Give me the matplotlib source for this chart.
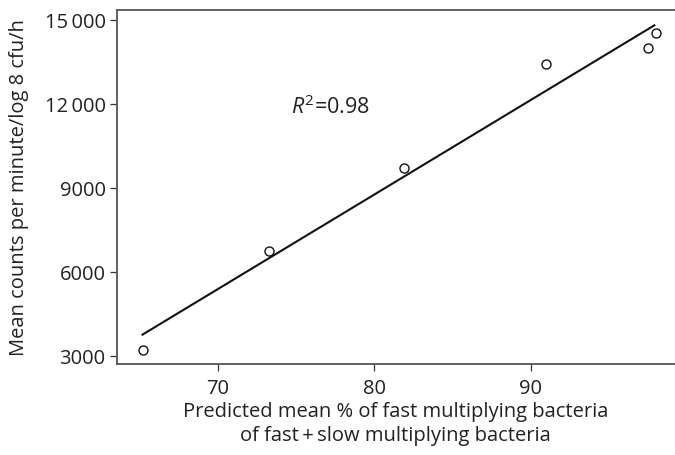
import numpy as np
import matplotlib
matplotlib.use("Agg")
import matplotlib.pyplot as plt

plt.rcParams["font.family"] = ["Open Sans", "DejaVu Sans"]
plt.rcParams["mathtext.fontset"] = "custom"
plt.rcParams["mathtext.rm"] = "Open Sans"
plt.rcParams["mathtext.it"] = "Open Sans:italic"

# values
pct_fast = [65.2, 73.3, 81.9, 91.0, 97.5, 98.0]
mean_cpm = [3220, 6750, 9690, 13420, 14000, 14525]
x_ticks = [70, 80, 90]
y_ticks = [3000, 6000, 9000, 12000, 15000]
y_tick_labels = ["3000", "6000", "9000", "12\u2009000", "15\u2009000"]

# least squares line through the points
slope, icpt = np.polyfit(pct_fast, mean_cpm, 1)
fit_x = np.array([min(pct_fast), 97.9])
fit_y = slope * fit_x + icpt

fig = plt.figure(figsize=(6.75, 4.56), dpi=100, facecolor="white")
ax = fig.add_axes([0.1729, 0.1989, 0.8271, 0.7776])

ax.plot(fit_x, fit_y, color="#111111", lw=1.5, zorder=2)
ax.plot(pct_fast, mean_cpm, ls="none", marker="o", ms=6.5,
        mfc="white", mec="#111111", mew=1.0, zorder=3)

ax.set_xlim(63.55, 99.22)
ax.set_ylim(2693, 15357)
ax.set_xticks(x_ticks)
ax.set_yticks(y_ticks)
ax.set_yticklabels(y_tick_labels)

for side in ["left", "bottom", "top"]:
    ax.spines[side].set_color("#555555")
    ax.spines[side].set_linewidth(1.3)
ax.spines["right"].set_visible(False)

ax.tick_params(direction="out", length=5, width=0.9, color="#333333",
               labelsize=14.5, labelcolor="#222222", pad=3)
ax.tick_params(axis="x", pad=5)

ax.text(0.382, 0.728, r"$R^{2}$=0.98", transform=ax.transAxes,
        fontsize=15.5, color="#222222", ha="center", va="center")

ax.set_xlabel("Predicted mean % of fast multiplying bacteria\n"
              "of fast\u2009+\u2009slow multiplying bacteria",
              fontsize=14.5, color="#222222", labelpad=2, linespacing=1.3)
ax.set_ylabel("Mean counts per minute/log 8 cfu/h", fontsize=14.5,
              color="#222222", labelpad=11)

fig.savefig("out.png", dpi=100)
